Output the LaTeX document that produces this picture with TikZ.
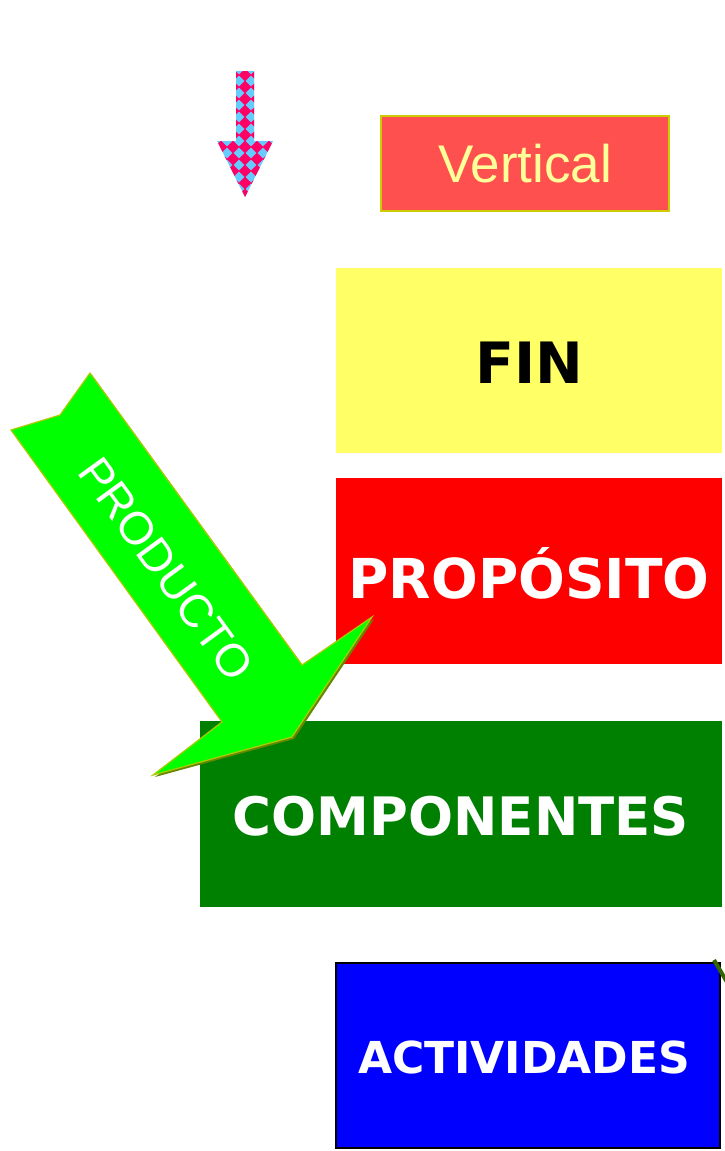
\documentclass[tikz,border=0pt]{standalone}
\usepackage{fontspec}
\setmainfont{Liberation Sans}
\newfontfamily\verd{DejaVu Sans}
\definecolor{vfill}{RGB}{255,80,80}
\definecolor{vtext}{RGB}{255,255,153}
\definecolor{vborder}{RGB}{204,204,0}
\definecolor{finfill}{RGB}{255,255,102}
\definecolor{propfill}{RGB}{255,0,0}
\definecolor{compfill}{RGB}{0,128,0}
\definecolor{actfill}{RGB}{0,0,255}
\definecolor{arrgreen}{RGB}{0,255,0}
\definecolor{arredge}{RGB}{170,204,0}
\definecolor{arrshadow}{RGB}{102,136,0}
\definecolor{chkpink}{RGB}{255,0,102}
\definecolor{chkblue}{RGB}{102,204,255}
\definecolor{linkgreen}{RGB}{51,102,0}
\begin{document}
\begin{tikzpicture}[x=1pt,y=-1pt,
  levelbox/.style={rectangle,inner sep=0pt,outer sep=0pt,anchor=north west},
  leveltext/.style={text=white,font=\verd\bfseries},
]
\useasboundingbox[fill=white] (0,0) rectangle (724,1151);

% checkered arrow
\begin{scope}
\clip (236,71) -- (254,71) -- (254,141) -- (273,141) -- (245,197) -- (217,141) -- (236,141) -- cycle;
\fill[chkblue] (210,60) rectangle (280,200);
\foreach \i in {-3,...,3}{
  \foreach \j in {0,...,11}{
    \fill[chkpink] ({245+\i*12},{75+\j*12}) ++(-6.3,0) -- ++(6.3,-6.3) -- ++(6.3,6.3) -- ++(-6.3,6.3) -- cycle;
  }
}
\end{scope}

% Vertical box
\node[levelbox,draw=vborder,line width=1.5pt,fill=vfill,minimum width=288pt,minimum height=95pt] (vert) at (381,116) {};
\node[text=vtext,font=\fontsize{53}{60}\selectfont] (verttext) at (525,164) {Vertical};

% level boxes
\node[levelbox,fill=finfill,minimum width=386pt,minimum height=185pt] (fin) at (336,268) {};
\node[font=\verd\bfseries\fontsize{57}{64}\selectfont,text=black] (fintext) at (529,363) {FIN};

\node[levelbox,fill=propfill,minimum width=386pt,minimum height=186pt] (prop) at (336,478) {};
\node[leveltext,font=\verd\bfseries\fontsize{55}{62}\selectfont] (proptext) at (529,573) {PROPÓSITO};

\node[levelbox,fill=compfill,minimum width=522pt,minimum height=186pt] (comp) at (200,721) {};
\node[leveltext,font=\verd\bfseries\fontsize{53}{60}\selectfont] (comptext) at (461,816) {COMPONENTES};

\node[levelbox,fill=actfill,draw=black,line width=2pt,minimum width=384pt,minimum height=185pt] (act) at (336,963) {};
\node[leveltext,font=\verd\bfseries\fontsize{44}{50}\selectfont] (acttext) at (524,1057) {ACTIVIDADES};

% partial connector at the corner
\coordinate (lk1) at (714,960);
\coordinate (lk2) at (727,982);
\draw[linkgreen,line width=4pt] (lk1) -- (lk2);

% green PRODUCTO arrow
\fill[arrshadow] ([shift={(2,2)}]11,430) -- ([shift={(2,2)}]60,415) -- ([shift={(2,2)}]90,373) -- ([shift={(2,2)}]302,665) -- ([shift={(2,2)}]372,617) -- ([shift={(2,2)}]292,737) -- ([shift={(2,2)}]153,775) -- ([shift={(2,2)}]222,722) -- cycle;
\filldraw[fill=arrgreen,draw=arredge,line width=1.2pt,line join=miter] (11,430) -- (60,415) -- (90,373) -- (302,665) -- (372,617) -- (292,737) -- (153,775) -- (222,722) -- cycle;
\node[text=white,font=\fontsize{46}{52}\selectfont,rotate=-54] (prod) at (166,569) {PRODUCTO};
\end{tikzpicture}
\end{document}
